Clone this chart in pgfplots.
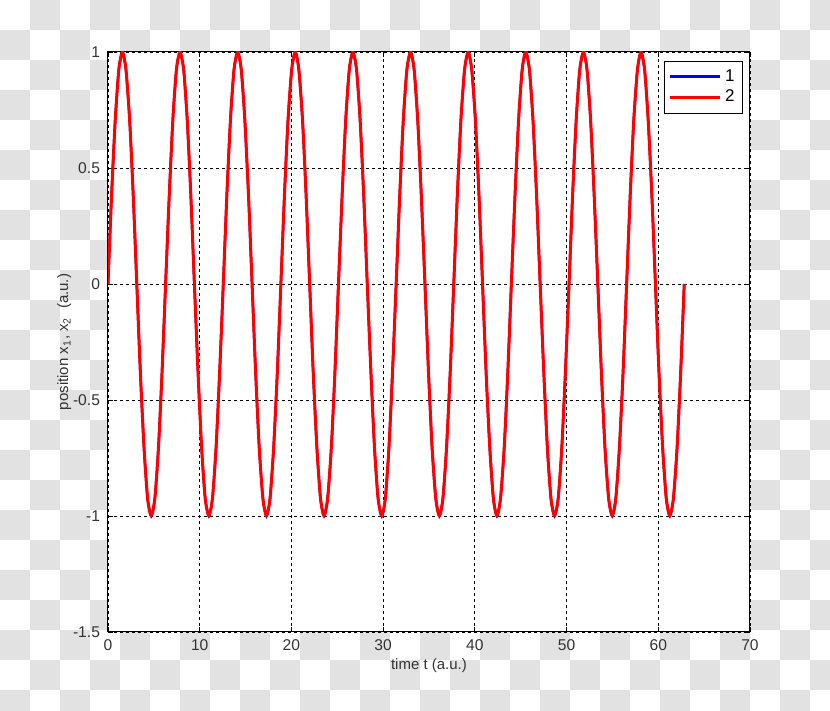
\documentclass[border=0pt]{standalone}
\usepackage{fontspec}
\setmainfont{Liberation Sans}
\usepackage{pgfplots}
\usepackage{pgfplotstable}
\pgfplotsset{compat=1.18}
\definecolor{checker}{RGB}{226,226,226}

\pgfplotstableread{
x y
0.00 0
0.39 0.383
0.79 0.707
1.18 0.924
1.57 1
1.96 0.924
2.36 0.707
2.75 0.383
3.14 0
3.53 -0.383
3.93 -0.707
4.32 -0.924
4.71 -1
5.11 -0.924
5.50 -0.707
5.89 -0.383
6.28 0
6.68 0.383
7.07 0.707
7.46 0.924
7.85 1
8.25 0.924
8.64 0.707
9.03 0.383
9.42 0
9.82 -0.383
10.21 -0.707
10.60 -0.924
11.00 -1
11.39 -0.924
11.78 -0.707
12.17 -0.383
12.57 0
12.96 0.383
13.35 0.707
13.74 0.924
14.14 1
14.53 0.924
14.92 0.707
15.32 0.383
15.71 0
16.10 -0.383
16.49 -0.707
16.89 -0.924
17.28 -1
17.67 -0.924
18.06 -0.707
18.46 -0.383
18.85 0
19.24 0.383
19.63 0.707
20.03 0.924
20.42 1
20.81 0.924
21.21 0.707
21.60 0.383
21.99 0
22.38 -0.383
22.78 -0.707
23.17 -0.924
23.56 -1
23.95 -0.924
24.35 -0.707
24.74 -0.383
25.13 0
25.53 0.383
25.92 0.707
26.31 0.924
26.70 1
27.10 0.924
27.49 0.707
27.88 0.383
28.27 0
28.67 -0.383
29.06 -0.707
29.45 -0.924
29.85 -1
30.24 -0.924
30.63 -0.707
31.02 -0.383
31.42 0
31.81 0.383
32.20 0.707
32.59 0.924
32.99 1
33.38 0.924
33.77 0.707
34.16 0.383
34.56 0
34.95 -0.383
35.34 -0.707
35.74 -0.924
36.13 -1
36.52 -0.924
36.91 -0.707
37.31 -0.383
37.70 0
38.09 0.383
38.48 0.707
38.88 0.924
39.27 1
39.66 0.924
40.06 0.707
40.45 0.383
40.84 0
41.23 -0.383
41.63 -0.707
42.02 -0.924
42.41 -1
42.80 -0.924
43.20 -0.707
43.59 -0.383
43.98 0
44.38 0.383
44.77 0.707
45.16 0.924
45.55 1
45.95 0.924
46.34 0.707
46.73 0.383
47.12 0
47.52 -0.383
47.91 -0.707
48.30 -0.924
48.69 -1
49.09 -0.924
49.48 -0.707
49.87 -0.383
50.27 0
50.66 0.383
51.05 0.707
51.44 0.924
51.84 1
52.23 0.924
52.62 0.707
53.01 0.383
53.41 0
53.80 -0.383
54.19 -0.707
54.59 -0.924
54.98 -1
55.37 -0.924
55.76 -0.707
56.16 -0.383
56.55 0
56.94 0.383
57.33 0.707
57.73 0.924
58.12 1
58.51 0.924
58.90 0.707
59.30 0.383
59.69 0
60.08 -0.383
60.48 -0.707
60.87 -0.924
61.26 -1
61.65 -0.924
62.05 -0.707
62.44 -0.383
62.83 0
}\wavedata

\begin{document}
\begin{tikzpicture}
% transparency checkerboard background (image 830x711 px, 1px = 0.5pt)
\begin{scope}
\clip (-54pt,-39.5pt) rectangle (361pt,316pt);
\foreach \r in {0,...,23}{
  \foreach \c in {0,...,27}{
    \pgfmathtruncatemacro{\odd}{mod(\r+\c,2)}
    \ifnum\odd=1
      \fill[checker] ({-54pt+15pt*\c},{316pt-15pt*\r}) rectangle ++(15pt,-15pt);
    \fi
  }
}
\end{scope}
\begin{axis}[
  at={(0,0)}, anchor=south west,
  scale only axis,
  width=321pt, height=290pt,
  xmin=0, xmax=70, ymin=-1.5, ymax=1,
  xtick={0,10,...,70},
  xticklabels={0,10,20,30,40,50,60,70},
  ytick={-1.5,-1,-0.5,0,0.5,1},
  yticklabels={-1.5,-1,-0.5,0,0.5,1},
  tick align=inside,
  major tick length=2.5pt,
  tick style={black, line width=0.4pt},
  axis line style={black, line width=0.5pt},
  axis background/.style={fill=white},
  grid=major,
  major grid style={black, line width=0.4pt, dash pattern=on 1.5pt off 1.5pt},
  ticklabel style={font=\fontsize{7.8}{9}\selectfont, text=black!80},
  label style={font=\fontsize{7.5}{9}\selectfont, text=black!80},
  xticklabel style={yshift=-0.5pt},
  yticklabel style={xshift=-0.5pt},
  xlabel={time t (a.u.)},
  ylabel={position x\textsubscript{1}, x\textsubscript{2}\ \ (a.u.)},
  xlabel style={yshift=3pt},
  ylabel style={yshift=-6pt},
  legend style={at={(1,1)}, anchor=north east, xshift=-3.5pt, yshift=-4.5pt,
    draw=black, fill=white, line width=0.4pt,
    font=\fontsize{8.5}{10}\selectfont, row sep=-1pt,
    inner xsep=2pt, inner ysep=2pt},
  legend cell align=left,
  legend image code/.code={\draw[#1, line width=1.5pt] (0pt,0pt) -- (25pt,0pt);},
]
\addplot[blue, line width=1.2pt, smooth, tension=0.4] table[x=x,y=y] {\wavedata};
\addlegendentry{1}
\addplot[red, line width=1.5pt, line join=round, smooth, tension=0.4] table[x=x,y=y] {\wavedata};
\addlegendentry{2}
\end{axis}
\pgfresetboundingbox
\path[use as bounding box] (-54pt,-39.5pt) rectangle (361pt,316pt);
\end{tikzpicture}
\end{document}
